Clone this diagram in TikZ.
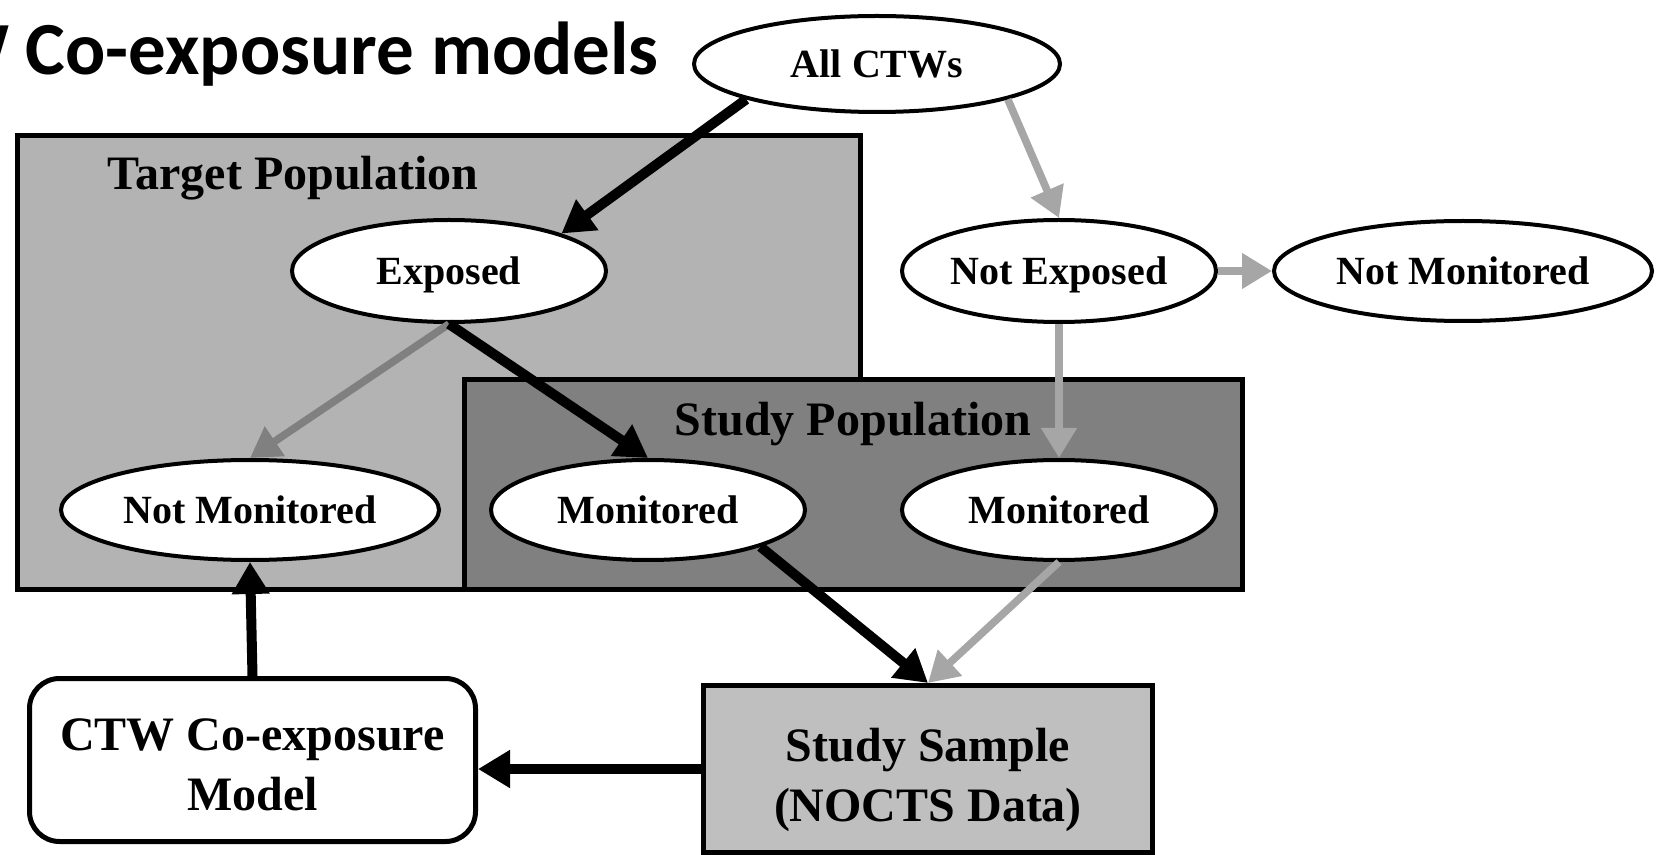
\documentclass[tikz,border=0pt]{standalone}
\usepackage{fontspec}
\setmainfont{Liberation Serif}
\newfontfamily\titlefont{Carlito}
\usetikzlibrary{shapes.geometric,arrows.meta}
\definecolor{targetgray}{RGB}{179,179,179}
\definecolor{studygray}{RGB}{128,128,128}
\definecolor{samplegray}{RGB}{191,191,191}
\definecolor{lightarrow}{RGB}{166,166,166}
\definecolor{midarrow}{RGB}{128,128,128}
\begin{document}
\begin{tikzpicture}[x=0.5pt,y=-0.5pt, main/.style = {draw, ellipse, line width=2pt, fill=white, inner sep=0pt, text depth=0pt, minimum width=157pt, minimum height=51pt, font=\fontsize{20}{24}\selectfont\bfseries}, wide/.style = {main, minimum width=189pt, minimum height=50pt}, area/.style = {draw, line width=2.5pt, anchor=north west, inner sep=0pt}, boxtext/.style = {font=\fontsize{24}{30}\selectfont\bfseries, align=center}, blk/.style = {line width=5pt, -{Triangle[length=16pt,width=18pt]}}, gry/.style = {line width=3.8pt, lightarrow, -{Triangle[length=15pt,width=17pt]}}]
	\useasboundingbox (0,0) rectangle (1665,855);
	\node[anchor=base east, font=\titlefont\fontsize{37.5}{44}\selectfont\bfseries] (0) at (666,75) {W Co-exposure models};
	\node[area, fill=targetgray, minimum width=421.5pt, minimum height=227pt] (t) at (15,133) {};
	\node[boxtext] (tl) at (293,178) {Target Population};
	\node[area, fill=studygray, minimum width=389pt, minimum height=105pt] (s) at (462,377) {};
	\node[boxtext] (sl) at (853,424) {Study Population};
	\node[main, minimum width=183pt, minimum height=48pt] (1) at (877,64) {All CTWs};
	\node[main] (2) at (449,271) {Exposed};
	\node[main] (3) at (1059,271) {Not Exposed};
	\node[wide] (4) at (1463,271) {Not Monitored};
	\node[wide] (5) at (250,510) {Not Monitored};
	\node[main, minimum height=50pt] (6) at (648,510) {Monitored};
	\node[main, minimum height=50pt] (7) at (1059,510) {Monitored};
	\node[area, boxtext, fill=samplegray, text height=57pt, text depth=5pt, minimum width=224.5pt, minimum height=83.5pt] (8) at (701,683) {Study Sample\\(NOCTS Data)};
	\node[area, boxtext, fill=white, text height=50.6pt, text depth=0pt, rounded corners=15pt, minimum width=223pt, minimum height=81.5pt] (9) at (27,676) {CTW Co-exposure\\Model};
	\draw[blk] (1.south west) -- (2.north east);
	\draw[gry] (1.south east) -- (3.north);
	\draw[gry] (3.east) -- (4.west);
	\draw[gry] (3.south) -- (7.north);
	\draw[gry, midarrow] (2.south) -- (5.north);
	\draw[blk] (2.south) -- (6.north);
	\draw[blk] (6.south east) -- (8.north);
	\draw[gry] (7.south) -- (8.north);
	\draw[blk] (8.west) -- (8.west -| 9.east);
	\draw[blk] (9.north) -- (5.south);
	
	\end{tikzpicture}
\end{document}
